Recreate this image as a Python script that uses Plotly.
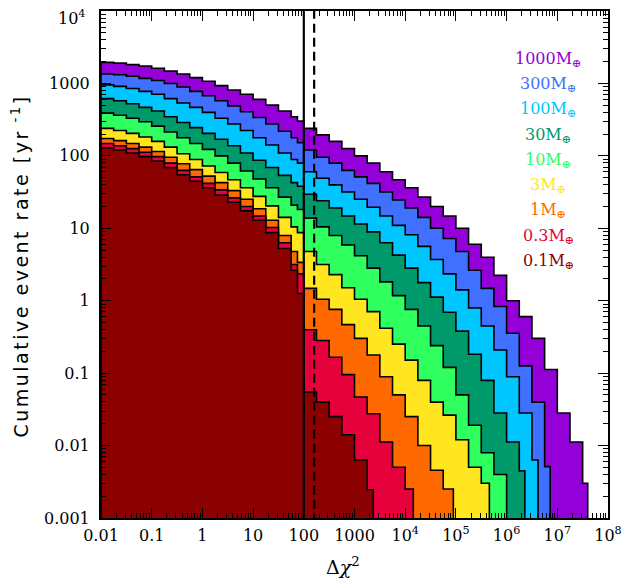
import plotly.graph_objects as go

# Bin edges in log10(Delta chi^2)
LOG10_DCHI2_EDGES = [-2.0, -1.75, -1.5, -1.25, -1.0, -0.75, -0.5, -0.25, 0.0, 0.25, 0.5, 0.75,
                     1.0, 1.25, 1.5, 1.75, 1.875, 2.0, 2.25, 2.5, 2.75, 3.0, 3.25, 3.5, 3.75,
                     4.0, 4.25, 4.5, 4.75, 5.0, 5.25, 5.5, 5.75, 6.0, 6.25, 6.5, 6.75, 7.0,
                     7.25, 7.5]

MASS_LABELS = ["1000", "300", "100", "30", "10", "3", "1", "0.3", "0.1"]
COLORS = ["#9400d8", "#4070ff", "#00c6ff", "#00996a", "#30ff60",
          "#ffe620", "#ff6a00", "#e6003c", "#8b0000"]

# log10 of cumulative event rate [yr^-1] in each bin
LOG10_RATE_1000 = [3.29, 3.28, 3.26, 3.24, 3.21, 3.17, 3.13, 3.08, 3.03, 2.97, 2.91, 2.85, 2.78, 2.70, 2.62, 2.54, 2.48,
                   2.38, 2.29, 2.20, 2.10, 2.00, 1.90, 1.78, 1.67, 1.56, 1.43, 1.30, 1.17, 1.00, 0.78, 0.60, 0.35,
                   0.00, -0.22, -0.52, -0.95, -1.55, -1.95, -2.52]
LOG10_RATE_300 = [3.13, 3.12, 3.10, 3.07, 3.04, 3.00, 2.95, 2.89, 2.83, 2.76, 2.69, 2.61, 2.53, 2.44, 2.34, 2.25, 2.18,
                  2.08, 1.98, 1.90, 1.80, 1.71, 1.62, 1.50, 1.39, 1.28, 1.15, 1.00, 0.86, 0.68, 0.42, 0.17, -0.08,
                  -0.45, -0.90, -1.40, -2.29]
LOG10_RATE_100 = [2.98, 2.96, 2.93, 2.89, 2.85, 2.79, 2.73, 2.67, 2.60, 2.52, 2.44, 2.35, 2.25, 2.15, 2.04, 1.95, 1.90,
                  1.78, 1.69, 1.60, 1.50, 1.40, 1.29, 1.17, 1.04, 0.91, 0.75, 0.57, 0.37, 0.15, -0.10, -0.35, -0.68,
                  -1.05, -1.55, -2.20]
LOG10_RATE_30 = [2.79, 2.76, 2.72, 2.67, 2.62, 2.54, 2.46, 2.39, 2.31, 2.23, 2.14, 2.04, 1.94, 1.84, 1.73, 1.63, 1.58,
                 1.47, 1.38, 1.28, 1.17, 1.06, 0.95, 0.80, 0.63, 0.45, 0.25, 0.05, -0.16, -0.42, -0.74, -1.10, -1.55,
                 -1.95, -2.35]
LOG10_RATE_10 = [2.59, 2.56, 2.52, 2.47, 2.41, 2.33, 2.25, 2.17, 2.09, 2.00, 1.90, 1.79, 1.68, 1.56, 1.43, 1.32, 1.26,
                 1.14, 1.02, 0.90, 0.77, 0.62, 0.45, 0.26, 0.07, -0.12, -0.35, -0.62, -0.92, -1.30, -1.72, -2.10, -2.40]
LOG10_RATE_3 = [2.38, 2.35, 2.31, 2.26, 2.20, 2.12, 2.03, 1.95, 1.86, 1.77, 1.67, 1.56, 1.44, 1.31, 1.15, 1.02, 0.94,
                0.68, 0.50, 0.36, 0.18, 0.02, -0.15, -0.38, -0.60, -0.82, -1.10, -1.40, -1.58, -1.92, -2.30, -2.52]
LOG10_RATE_1 = [2.24, 2.21, 2.17, 2.12, 2.06, 1.98, 1.89, 1.81, 1.72, 1.63, 1.52, 1.40, 1.27, 1.11, 0.90, 0.68, 0.53,
                0.17, 0.02, -0.12, -0.33, -0.52, -0.75, -1.05, -1.30, -1.60, -2.00, -2.34, -2.60]
LOG10_RATE_03 = [2.17, 2.14, 2.10, 2.05, 1.99, 1.90, 1.80, 1.71, 1.62, 1.53, 1.42, 1.30, 1.17, 1.01, 0.80, 0.50, 0.37,
                 -0.40, -0.55, -0.78, -1.02, -1.33, -1.56, -1.95, -2.30, -2.60]
LOG10_RATE_01 = [2.11, 2.08, 2.04, 1.99, 1.93, 1.84, 1.74, 1.65, 1.56, 1.46, 1.36, 1.24, 1.11, 0.94, 0.72, 0.42, 0.10,
                 -1.26, -1.40, -1.60, -1.85, -2.20, -2.61]

SERIES = [LOG10_RATE_1000, LOG10_RATE_300, LOG10_RATE_100, LOG10_RATE_30, LOG10_RATE_10,
          LOG10_RATE_3, LOG10_RATE_1, LOG10_RATE_03, LOG10_RATE_01]
LOG10_DCHI2_END = [7.6, 6.86, 6.62, 6.36, 6.0, 5.66, 4.95, 4.16, 3.37]

THRESHOLD_SOLID = 100
THRESHOLD_DASHED = 160

X_TICKVALS = [0.01, 0.1, 1, 10, 100, 1000, 1e4, 1e5, 1e6, 1e7, 1e8]
X_TICKTEXT = ["0.01", "0.1", "1", "10", "100", "1000", "10<sup>4</sup>", "10<sup>5</sup>",
              "10<sup>6</sup>", "10<sup>7</sup>", "10<sup>8</sup>"]
Y_TICKVALS = [0.001, 0.01, 0.1, 1, 10, 100, 1000]
Y_TICKTEXT = ["0.001", "0.01", "0.1", "1", "10", "100", "1000"]
Y_TOP_LABEL = "10<sup>4</sup>"

FLOOR = 1e-5
TICK_FONT = dict(family="DejaVu Serif", size=16, color="black")

fig = go.Figure()

for vals, end, color in zip(SERIES, LOG10_DCHI2_END, COLORS):
    xs = [10 ** LOG10_DCHI2_EDGES[0]]
    ys = [FLOOR]
    n = len(vals)
    for i, v in enumerate(vals):
        x0 = 10 ** LOG10_DCHI2_EDGES[i]
        x1 = 10 ** (LOG10_DCHI2_EDGES[i + 1] if i + 1 < n else end)
        xs += [x0, x1]
        ys += [10 ** v, 10 ** v]
    xs += [10 ** end, xs[0]]
    ys += [FLOOR, FLOOR]
    fig.add_trace(go.Scatter(x=xs, y=ys, mode="lines", fill="toself", fillcolor=color,
                             line=dict(color="black", width=1.6), hoverinfo="skip",
                             showlegend=False))

fig.add_trace(go.Scatter(x=[THRESHOLD_SOLID, THRESHOLD_SOLID], y=[FLOOR, 1e5], mode="lines",
                         line=dict(color="black", width=2.2), showlegend=False))
fig.add_trace(go.Scatter(x=[THRESHOLD_DASHED, THRESHOLD_DASHED], y=[FLOOR, 1e5], mode="lines",
                         line=dict(color="black", width=2.2, dash="9px,5px"), showlegend=False))

for i, (lab, color) in enumerate(zip(MASS_LABELS, COLORS)):
    fig.add_annotation(x=0.882, y=0.905 - 0.0499 * i, xref="paper", yref="paper",
                       text=f"{lab}M<sub>⊕</sub>", showarrow=False, xanchor="center", yanchor="middle",
                       font=dict(family="DejaVu Serif", size=16, color=color))

minor_x = [m * 10 ** e for e in range(-2, 8) for m in range(2, 10)]
minor_y = [m * 10 ** e for e in range(-3, 4) for m in range(2, 10)]

axis_common = dict(showline=True, linecolor="black", linewidth=2, mirror="allticks",
                   ticks="inside", ticklen=10, tickwidth=1.3, tickcolor="black",
                   showgrid=False, zeroline=False, automargin=False, ticklabeloverflow="allow",
                   tickfont=TICK_FONT)

fig.update_xaxes(type="log", range=[-2, 8], tickvals=X_TICKVALS, ticktext=X_TICKTEXT,
                 minor=dict(tickvals=minor_x, ticks="inside", ticklen=5, tickwidth=1, tickcolor="black",
                            showgrid=False),
                 ticklabelstandoff=2, **axis_common)
fig.update_yaxes(type="log", range=[-3, 4], tickvals=Y_TICKVALS + [1e4], ticktext=Y_TICKTEXT + [""],
                 minor=dict(tickvals=minor_y, ticks="inside", ticklen=5, tickwidth=1, tickcolor="black",
                            showgrid=False),
                 ticklabelstandoff=6, **axis_common)

# top y tick label, nudged down so it stays inside the page
fig.add_annotation(x=-14 / 507, y=1, xref="paper", yref="paper", text=Y_TOP_LABEL, showarrow=False,
                   xanchor="right", yanchor="top", yshift=6, font=TICK_FONT)

fig.add_annotation(x=(20 - 101) / 507, y=0.496, xref="paper", yref="paper",
                   text='<span style="letter-spacing:2.5px">Cumulative event rate [yr<sup> -1</sup>]</span>',
                   textangle=-90, showarrow=False, xanchor="center", yanchor="middle",
                   font=dict(family="DejaVu Sans", size=19, color="black"))
fig.add_annotation(x=(343 - 101) / 507, y=(518 - 566) / 507, xref="paper", yref="paper",
                   text="Δ<i>χ</i><sup>2</sup>", showarrow=False, xanchor="center", yanchor="middle",
                   font=dict(family="DejaVu Serif", size=19, color="black"))

fig.update_layout(width=642, height=586,
                  margin=dict(l=93, r=42, t=3, b=76, autoexpand=False),
                  paper_bgcolor="white", plot_bgcolor="white", showlegend=False)

fig.write_html("out.html")
